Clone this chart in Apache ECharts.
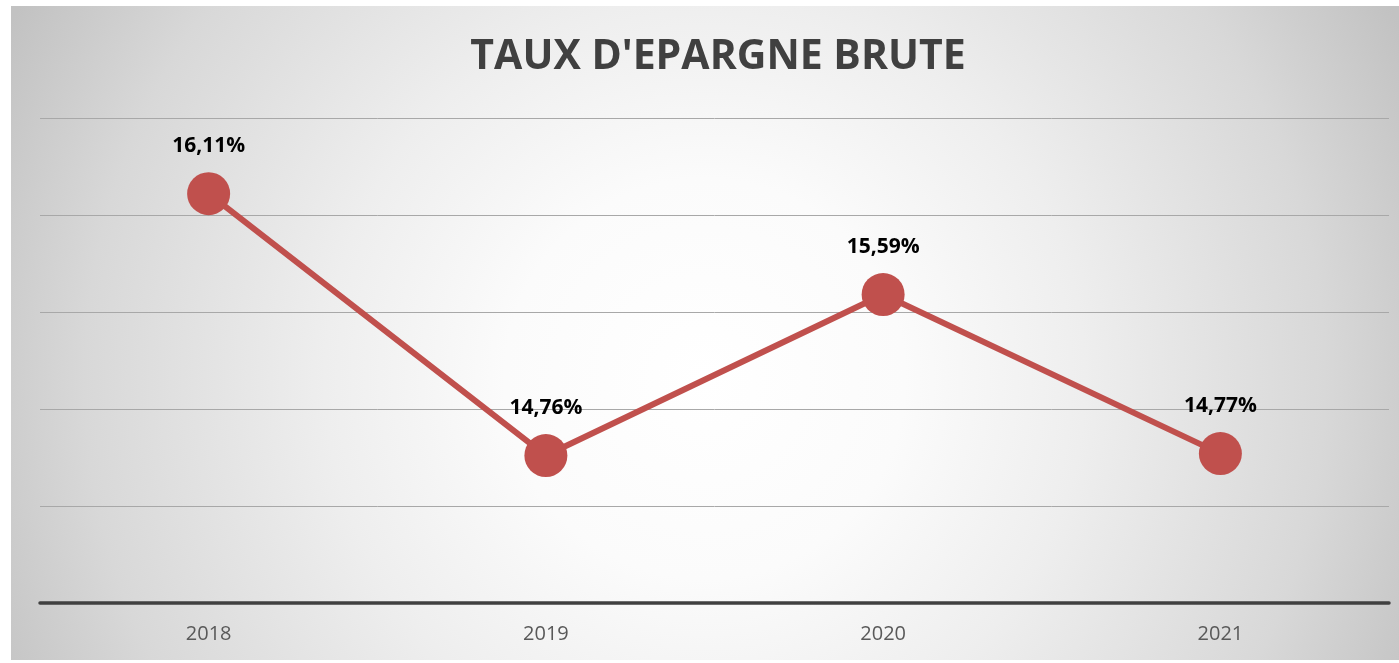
<!DOCTYPE html>
<html>
<head>
<meta charset="utf-8">
<script src="https://cdn.jsdelivr.net/npm/echarts@6/dist/echarts.min.js"></script>
<style>
  html, body { margin: 0; padding: 0; background: #ffffff; }
  #bg { position: absolute; left: 11px; top: 6px; width: 1388px; height: 654px;
        background: radial-gradient(circle 780px at 50% 57%, #ffffff 0px, #fbfbfb 200px, #eeeeee 380px, #d8d8d8 620px, #c2c2c2 780px); }
  #chart { position: absolute; left: 0; top: 0; width: 1399px; height: 663px; }
</style>
</head>
<body>
<div id="bg"></div>
<div id="chart"></div>
<script>
const title = "TAUX D'EPARGNE BRUTE";
const categories = ['2018', '2019', '2020', '2021'];
const values = [16.11, 14.76, 15.59, 14.77];
const yMin = 14, yMax = 16.5, yInterval = 0.5;

const chart = echarts.init(document.getElementById('chart'), null, { renderer: 'canvas' });
chart.setOption({
  backgroundColor: 'transparent',
  animation: false,
  title: {
    text: title,
    left: 713,
    top: 32,
    textAlign: 'center',
    textStyle: { fontFamily: 'Open Sans', fontWeight: 'bold', fontSize: 41, color: '#404040' }
  },
  grid: { left: 40, right: 10, top: 118, bottom: 60, containLabel: false },
  xAxis: {
    type: 'category',
    data: categories,
    boundaryGap: true,
    axisLine: { show: true, lineStyle: { color: '#404040', width: 3.5 } },
    axisTick: { show: false },
    axisLabel: { margin: 21, fontFamily: 'Open Sans', fontSize: 20, color: '#595959' }
  },
  yAxis: {
    type: 'value',
    min: yMin, max: yMax, interval: yInterval,
    axisLine: { show: false },
    axisTick: { show: false },
    axisLabel: { show: false },
    splitLine: { show: true, lineStyle: { color: '#a8a8a8', width: 1 } }
  },
  series: [{
    type: 'line',
    data: values,
    symbol: 'circle',
    symbolSize: 43,
    lineStyle: { color: '#c0504d', width: 6 },
    itemStyle: { color: '#c0504d' },
    label: {
      show: true,
      position: 'top',
      distance: 16,
      fontFamily: 'Open Sans',
      fontWeight: 'bold',
      fontSize: 21,
      color: '#000000',
      formatter: p => p.value.toFixed(2).replace('.', ',') + '%'
    }
  }]
});
</script>
</body>
</html>
